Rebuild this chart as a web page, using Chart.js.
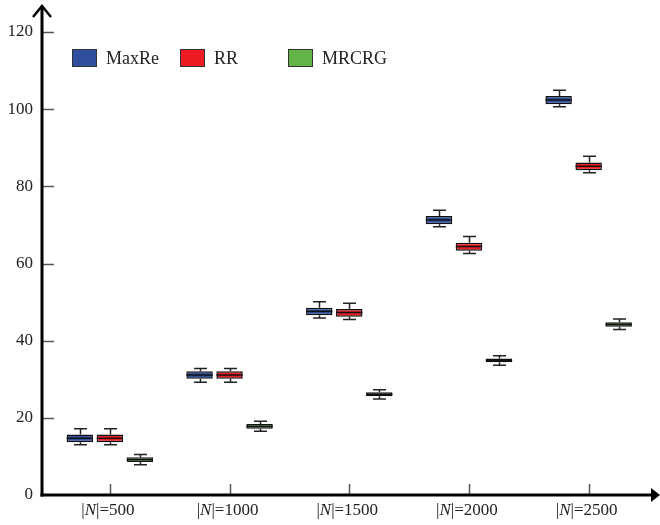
<!DOCTYPE html>
<html>
<head>
<meta charset="utf-8">
<script src="https://cdn.jsdelivr.net/npm/chart.js@4/dist/chart.umd.min.js"></script>
<style>
html,body{margin:0;padding:0;background:#fff;}
#wrap{width:660px;height:525px;position:relative;}
</style>
</head>
<body>
<div id="wrap"><canvas id="c" width="660" height="525"></canvas></div>
<script>
// ---- data ----
const categories = ['|N|=500', '|N|=1000', '|N|=1500', '|N|=2000', '|N|=2500'];
const seriesNames = ['MaxRe', 'RR', 'MRCRG'];
const yTicks = [0, 20, 40, 60, 80, 100, 120];

const maxReMin = [13.0, 29.2, 45.9, 69.5, 100.6];
const maxReQ1  = [13.7, 30.1, 46.6, 70.2, 101.3];
const maxReMed = [14.7, 31.1, 47.6, 71.3, 102.4];
const maxReQ3  = [15.7, 32.1, 48.5, 72.3, 103.4];
const maxReMax = [17.2, 32.8, 50.1, 73.8, 104.9];

const rrMin = [13.0, 29.2, 45.5, 62.6, 83.5];
const rrQ1  = [13.7, 30.1, 46.2, 63.3, 84.2];
const rrMed = [14.7, 31.1, 47.3, 64.4, 85.2];
const rrQ3  = [15.7, 32.1, 48.2, 65.4, 86.2];
const rrMax = [17.2, 32.8, 49.7, 67.0, 87.8];

const mrcrgMin = [7.85, 16.5, 24.9, 33.6, 42.9];
const mrcrgQ1  = [8.55, 17.2, 25.6, 34.4, 43.6];
const mrcrgMed = [9.15, 17.8, 26.1, 34.9, 44.2];
const mrcrgQ3  = [9.8, 18.4, 26.6, 35.4, 44.8];
const mrcrgMax = [10.5, 19.1, 27.3, 36.1, 45.6];

// ---- styles ----
const colors = ['#2f4f9e', '#ed1c24', '#62b446'];
const FONT = "'Liberation Serif', 'Times New Roman', serif";

const stats = [
  {min: maxReMin, q1: maxReQ1, med: maxReMed, q3: maxReQ3, max: maxReMax},
  {min: rrMin, q1: rrQ1, med: rrMed, q3: rrQ3, max: rrMax},
  {min: mrcrgMin, q1: mrcrgQ1, med: mrcrgMed, q3: mrcrgQ3, max: mrcrgMax}
];

const datasets = stats.map((s, i) => ({
  label: seriesNames[i],
  data: s.q1.map((q, j) => [q, s.q3[j]]),
  backgroundColor: colors[i],
  borderColor: '#111',
  borderWidth: 1.5,
  borderSkipped: false,
  categoryPercentage: 0.752,
  barPercentage: 0.88
}));

const boxPlugin = {
  id: 'boxPlugin',
  beforeDatasetsDraw(chart) {
    const ctx = chart.ctx, y = chart.scales.y;
    ctx.save();
    ctx.strokeStyle = '#222';
    ctx.lineWidth = 1.5;
    chart.data.datasets.forEach((ds, di) => {
      const meta = chart.getDatasetMeta(di);
      const s = stats[di];
      meta.data.forEach((el, j) => {
        const x = Math.round(el.x) + 0.5;
        const yMin = y.getPixelForValue(s.min[j]);
        const yMax = y.getPixelForValue(s.max[j]);
        const yQ1 = y.getPixelForValue(s.q1[j]);
        const yQ3 = y.getPixelForValue(s.q3[j]);
        ctx.beginPath();
        ctx.moveTo(x, yMax); ctx.lineTo(x, yQ3);
        ctx.moveTo(x, yQ1); ctx.lineTo(x, yMin);
        ctx.moveTo(x - 6.5, yMax); ctx.lineTo(x + 6.5, yMax);
        ctx.moveTo(x - 6.5, yMin); ctx.lineTo(x + 6.5, yMin);
        ctx.stroke();
      });
    });
    ctx.restore();
  },
  afterDatasetsDraw(chart) {
    const ctx = chart.ctx, y = chart.scales.y;
    ctx.save();
    ctx.strokeStyle = '#111';
    ctx.lineWidth = 1.5;
    chart.data.datasets.forEach((ds, di) => {
      const meta = chart.getDatasetMeta(di);
      const s = stats[di];
      meta.data.forEach((el, j) => {
        const ym = y.getPixelForValue(s.med[j]);
        ctx.beginPath();
        ctx.moveTo(el.x - el.width / 2, ym);
        ctx.lineTo(el.x + el.width / 2, ym);
        ctx.stroke();
      });
    });
    ctx.restore();
  },
  afterDraw(chart) {
    const ctx = chart.ctx, xs = chart.scales.x, ys = chart.scales.y;
    const ax = 42, ay = ys.getPixelForValue(0);
    ctx.save();
    // tick marks on y
    ctx.strokeStyle = '#555';
    ctx.lineWidth = 1.5;
    yTicks.forEach(v => {
      if (v === 0) return;
      const py = Math.round(ys.getPixelForValue(v)) + 0.5;
      ctx.beginPath(); ctx.moveTo(ax, py); ctx.lineTo(ax + 12, py); ctx.stroke();
    });
    // tick marks on x
    categories.forEach((c, i) => {
      const px = Math.round(xs.getPixelForValue(i)) + 0.5;
      ctx.beginPath(); ctx.moveTo(px, ay); ctx.lineTo(px, ay - 11); ctx.stroke();
    });
    // axes
    ctx.strokeStyle = '#000';
    ctx.fillStyle = '#000';
    ctx.lineWidth = 3;
    ctx.beginPath(); ctx.moveTo(ax, ay + 1.5); ctx.lineTo(ax, 6); ctx.stroke();
    ctx.beginPath(); ctx.moveTo(ax - 1.5, ay); ctx.lineTo(653, ay); ctx.stroke();
    ctx.lineWidth = 2.5;
    ctx.beginPath(); ctx.moveTo(ax - 9, 17); ctx.lineTo(ax, 6); ctx.lineTo(ax + 9, 17); ctx.stroke();
    ctx.beginPath(); ctx.moveTo(651, ay - 7); ctx.lineTo(660, ay); ctx.lineTo(651, ay + 7); ctx.closePath(); ctx.fill();
    // x labels with italic N
    ctx.fillStyle = '#222';
    ctx.textBaseline = 'middle';
    ctx.textAlign = 'left';
    categories.forEach((c, i) => {
      const parts = c.split('N');
      const normal = '17px ' + FONT, ital = 'italic 17px ' + FONT;
      ctx.font = normal; const w0 = ctx.measureText(parts[0]).width;
      ctx.font = ital; const w1 = ctx.measureText('N').width;
      ctx.font = normal; const w2 = ctx.measureText(parts[1]).width;
      let x = xs.getPixelForValue(i) - (w0 + w1 + w2) / 2 - 2;
      const y = 511;
      ctx.font = normal; ctx.fillText(parts[0], x, y); x += w0;
      ctx.font = ital; ctx.fillText('N', x, y); x += w1;
      ctx.font = normal; ctx.fillText(parts[1], x, y);
    });
    // legend
    ctx.font = '18px ' + FONT;
    chart.data.datasets.forEach((ds, i) => {
      const lx = 72 + 108 * i, ly = 49;
      ctx.fillStyle = ds.backgroundColor;
      ctx.fillRect(lx, ly, 25, 18);
      ctx.strokeStyle = '#333';
      ctx.lineWidth = 1;
      ctx.strokeRect(lx + 0.5, ly + 0.5, 24, 17);
      ctx.fillStyle = '#222';
      ctx.fillText(ds.label, lx + 34, ly + 10);
    });
    ctx.restore();
  }
};

new Chart(document.getElementById('c'), {
  type: 'bar',
  data: { labels: categories, datasets },
  options: {
    responsive: false,
    animation: false,
    devicePixelRatio: 1,
    layout: { padding: { top: 32, bottom: 30, left: 0, right: 11.5 } },
    plugins: { legend: { display: false }, tooltip: { enabled: false } },
    scales: {
      x: {
        offset: true,
        grid: { display: false },
        border: { display: false },
        ticks: { display: false },
        afterFit: s => { s.height = 0; }
      },
      y: {
        min: 0, max: 120,
        afterBuildTicks: s => { s.ticks = yTicks.map(v => ({ value: v })); },
        grid: { display: false },
        border: { display: false },
        ticks: { color: '#222', padding: 9, font: { family: FONT, size: 17 } },
        afterFit: s => { s.width = 50; }
      }
    }
  },
  plugins: [boxPlugin]
});
</script>
</body>
</html>
